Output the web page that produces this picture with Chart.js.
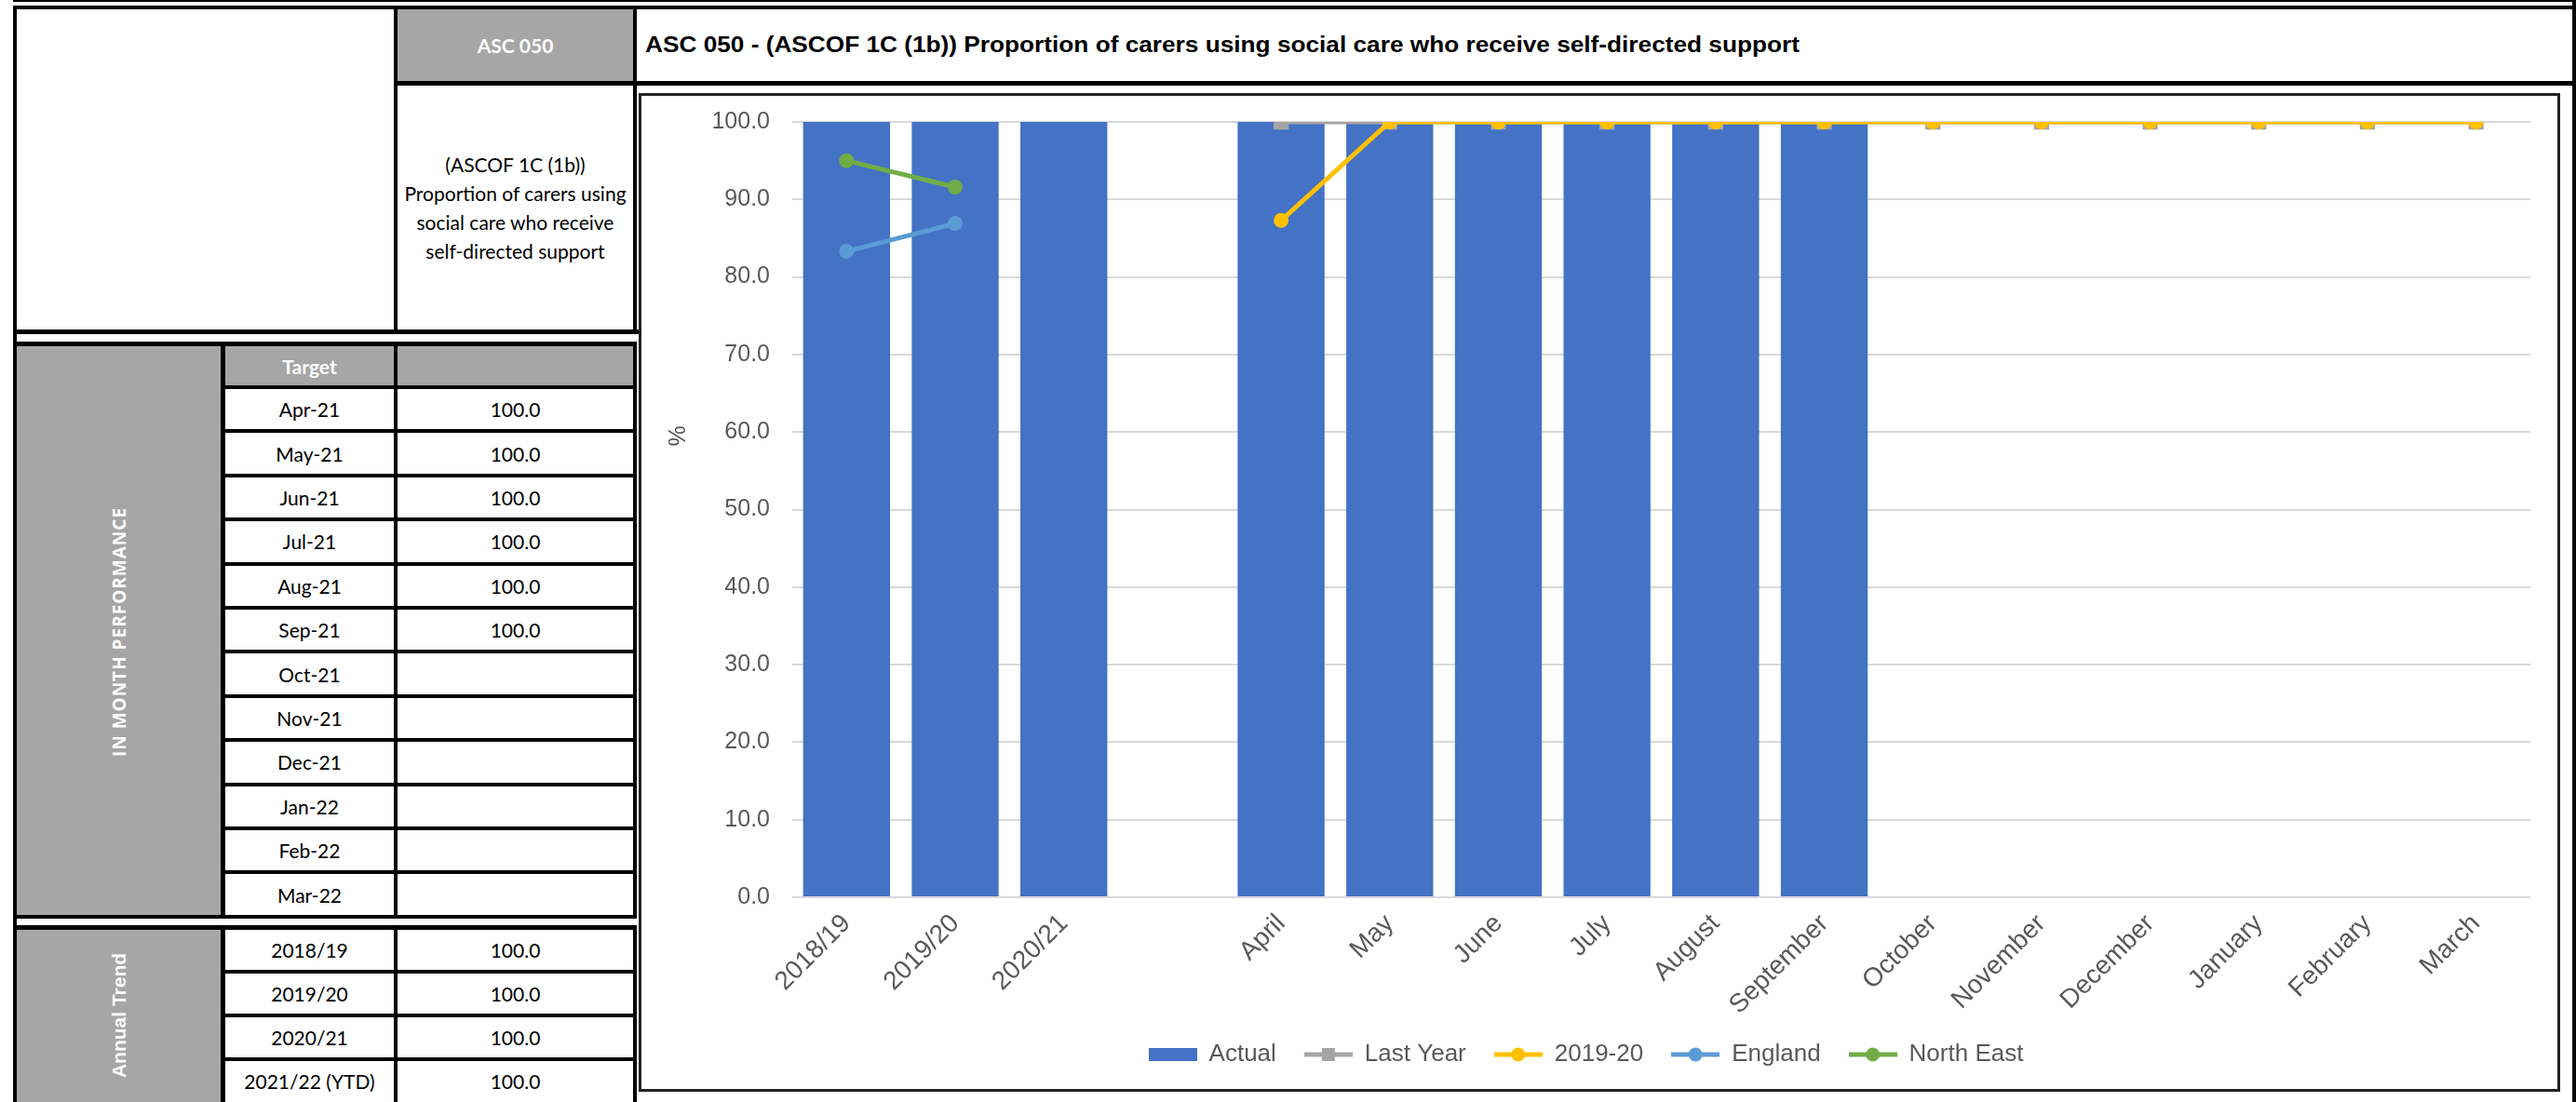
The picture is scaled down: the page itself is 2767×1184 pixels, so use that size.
<!DOCTYPE html>
<html>
<head>
<meta charset="utf-8">
<title>ASC 050</title>
<script src="https://cdn.jsdelivr.net/npm/chart.js@4.4.0/dist/chart.umd.min.js"></script>
<style>
  html, body { margin: 0; padding: 0; background: #fff; }
  body { position: relative; width: 2767px; height: 1184px; overflow: hidden; font-family: Lato, "Open Sans", sans-serif; }
  .ln { position: absolute; background: #000; }
  .fill { position: absolute; background: #a6a6a6; }
  .cell { position: absolute; display: flex; align-items: center; justify-content: center; text-align: center; font-size: 21px; color: #000; }
  .hdr { color: #fff; font-weight: bold; }
  .vert { position: absolute; transform: translate(-50%, -50%) rotate(-90deg); white-space: nowrap; color: #fff; font-weight: bold; }
  #title { position: absolute; left: 693px; top: 10px; height: 77px; display: flex; align-items: center;
           font: bold 23px "Liberation Sans", Arial, sans-serif; color: #000; white-space: nowrap;
           transform: scaleX(1.14); transform-origin: left center; }
  #chartBox { position: absolute; left: 686px; top: 100px; width: 2064px; height: 1073px; box-sizing: border-box; border: 3px solid #222; }
  #chartWrap { position: relative; width: 100%; height: 100%; }
</style>
</head>
<body>
<div id="title">ASC 050 - (ASCOF 1C (1b)) Proportion of carers using social care who receive self-directed support</div>
<div id="chartBox"><div id="chartWrap"><canvas id="ascChart"></canvas></div></div>
<script>
// chart data
const categories = ['2018/19', '2019/20', '2020/21', '', 'April', 'May', 'June', 'July', 'August',
  'September', 'October', 'November', 'December', 'January', 'February', 'March'];
const actual    = [100, 100, 100, null, 100, 100, 100, 100, 100, 100, null, null, null, null, null, null];
const lastYear  = [null, null, null, null, 100, 100, 100, 100, 100, 100, 100, 100, 100, 100, 100, 100];
const year1920  = [null, null, null, null, 87.3, 100, 100, 100, 100, 100, 100, 100, 100, 100, 100, 100];
const england   = [83.3, 86.9, null, null, null, null, null, null, null, null, null, null, null, null, null, null];
const northEast = [95.0, 91.6, null, null, null, null, null, null, null, null, null, null, null, null, null, null];
const yTicks = [0, 10, 20, 30, 40, 50, 60, 70, 80, 90, 100];

// side table data
const targetMonths = ['Apr-21', 'May-21', 'Jun-21', 'Jul-21', 'Aug-21', 'Sep-21',
  'Oct-21', 'Nov-21', 'Dec-21', 'Jan-22', 'Feb-22', 'Mar-22'];
const targetValues = [100, 100, 100, 100, 100, 100, null, null, null, null, null, null];
const annualYears = ['2018/19', '2019/20', '2020/21', '2021/22 (YTD)'];
const annualValues = [100, 100, 100, 100];

const body = document.body;
function box(cls, x, y, w, h) {
  const d = document.createElement('div');
  d.className = cls;
  Object.assign(d.style, { left: x + 'px', top: y + 'px', width: w + 'px', height: h + 'px' });
  body.appendChild(d);
  return d;
}
function cell(x, y, w, h, text, extra) {
  const d = box('cell' + (extra ? ' ' + extra : ''), x, y, w, h);
  d.textContent = text;
  return d;
}
function vtext(cx, cy, text, font, spacing) {
  const d = document.createElement('div');
  d.className = 'vert';
  d.style.left = cx + 'px';
  d.style.top = cy + 'px';
  d.style.font = font;
  if (spacing) d.style.letterSpacing = spacing;
  d.textContent = text;
  body.appendChild(d);
}

// grey fills
box('fill', 427, 10, 253, 77);
box('fill', 18, 372, 219, 611);
box('fill', 242, 372, 181, 42);
box('fill', 427, 372, 253, 42);
box('fill', 18, 999, 219, 185);

// header text
cell(427, 10, 253, 77, 'ASC 050', 'hdr');
const desc = cell(427, 92, 253, 262, '');
desc.innerHTML = '(ASCOF 1C (1b))<br>Proportion of carers using<br>social care who receive<br>self-directed support';
desc.style.lineHeight = '31px';
cell(242, 372, 181, 42, 'Target', 'hdr');

// in-month rows
const rowTop = 414, rowStep = 47.4;
targetMonths.forEach((m, i) => {
  const y0 = rowTop + rowStep * i + 4;
  const h = rowStep - 4;
  cell(242, y0, 181, h, m);
  cell(427, y0, 253, h, targetValues[i] == null ? '' : targetValues[i].toFixed(1));
});
for (let k = 0; k <= 12; k++) box('ln', 237, Math.round(rowTop + rowStep * k), 447, 4);

// annual trend rows
const annualTop = 999, annualStep = 47;
annualYears.forEach((yr, i) => {
  const y0 = annualTop + annualStep * i;
  cell(242, y0, 181, annualStep - 4, yr);
  cell(427, y0, 253, annualStep - 4, annualValues[i].toFixed(1));
  if (i > 0) box('ln', 237, y0 - 4, 447, 4);
});

// rotated side labels
vtext(128, 679, 'IN MONTH PERFORMANCE', 'bold 19px "Open Sans", sans-serif', '1px');
vtext(128, 1091, 'Annual Trend', 'bold 21px "Liberation Sans", Arial, sans-serif');

// frame lines
box('ln', 14, 0, 2753, 2);
box('ln', 14, 6, 2753, 4);
box('ln', 14, 6, 4, 1178);
box('ln', 2763, 0, 4, 1184);
box('ln', 423, 87, 2344, 5);
box('ln', 423, 10, 4, 349);
box('ln', 680, 10, 4, 349);
box('ln', 14, 354, 672, 5);
box('ln', 14, 367, 670, 5);
box('ln', 237, 372, 5, 615);
box('ln', 423, 372, 4, 615);
box('ln', 680, 367, 4, 620);
box('ln', 14, 983, 670, 4);
box('ln', 14, 994, 670, 5);
box('ln', 237, 999, 5, 185);
box('ln', 423, 994, 4, 190);
box('ln', 680, 994, 4, 190);

// legend keys: bar swatch or short line with its marker
function legendKey(color, marker) {
  const c = document.createElement('canvas');
  c.width = 52;
  c.height = marker ? 18 : 14;
  const g = c.getContext('2d');
  g.fillStyle = color;
  if (!marker) {
    g.fillRect(0, 0, 52, 14);
    return c;
  }
  g.fillRect(0, 6.5, 52, 5);
  if (marker === 'rect') {
    g.fillRect(19, 2, 14, 14);
  } else {
    g.beginPath();
    g.arc(26, 9, 7.5, 0, Math.PI * 2);
    g.fill();
  }
  return c;
}
const legendKeys = [
  legendKey('#4472c4'),
  legendKey('#a5a5a5', 'rect'),
  legendKey('#ffc000', 'circle'),
  legendKey('#5b9bd5', 'circle'),
  legendKey('#70ad47', 'circle')
];

const fontFamily = '"Liberation Sans", Arial, sans-serif';
const axisFont = { family: fontFamily, size: 25 };
const catFont = { family: fontFamily, size: 28 };

// rotated "%" axis caption
const yCaption = {
  id: 'yCaption',
  afterDraw(chart) {
    const { ctx, chartArea } = chart;
    ctx.save();
    ctx.translate(40, chartArea.top + 0.405 * (chartArea.bottom - chartArea.top));
    ctx.rotate(-Math.PI / 2);
    ctx.font = '25px ' + fontFamily;
    ctx.fillStyle = '#595959';
    ctx.textAlign = 'center';
    ctx.textBaseline = 'middle';
    ctx.fillText('%', 0, 0);
    ctx.restore();
  }
};

function lineSet(label, data, color, style, radius, order) {
  return {
    type: 'line', label, data, order,
    borderColor: color, backgroundColor: color,
    pointBackgroundColor: color, pointBorderColor: color,
    borderWidth: 5, pointBorderWidth: 0,
    pointStyle: style, pointRadius: radius, pointHoverRadius: radius,
    tension: 0, spanGaps: false
  };
}

new Chart(document.getElementById('ascChart'), {
  type: 'bar',
  data: {
    labels: categories,
    datasets: [
      { label: 'Actual', data: actual, backgroundColor: '#4472c4', borderWidth: 0,
        barPercentage: 0.8, categoryPercentage: 1.0, order: 5 },
      lineSet('Last Year', lastYear, '#a5a5a5', 'rect', 11.5, 4),
      lineSet('2019-20', year1920, '#ffc000', 'circle', 8, 3),
      lineSet('England', england, '#5b9bd5', 'circle', 8, 2),
      lineSet('North East', northEast, '#70ad47', 'circle', 8, 1)
    ]
  },
  options: {
    responsive: true,
    maintainAspectRatio: false,
    animation: false,
    layout: { padding: { top: 28, right: 29, bottom: 14, left: 0 } },
    scales: {
      x: {
        grid: { display: false, drawTicks: false },
        border: { display: false },
        ticks: { color: '#595959', font: catFont, minRotation: 45, maxRotation: 45, autoSkip: false, padding: 12 },
        afterFit: (s) => { s.height = 126; }
      },
      y: {
        min: yTicks[0], max: yTicks[yTicks.length - 1],
        grid: { color: '#d9d9d9', lineWidth: 2, drawTicks: false },
        border: { display: false },
        afterBuildTicks: (s) => { s.ticks = yTicks.map(v => ({ value: v })); },
        ticks: { color: '#595959', font: axisFont, padding: 24, callback: (v) => Number(v).toFixed(1) },
        afterFit: (s) => { s.width = 162; s.paddingTop = 0; s.paddingBottom = 0; }
      }
    },
    plugins: {
      tooltip: { enabled: false },
      legend: {
        position: 'bottom',
        labels: {
          usePointStyle: true,
          pointStyleWidth: 52,
          color: '#595959',
          font: { family: fontFamily, size: 26 },
          padding: 30,
          sort: (a, b) => a.datasetIndex - b.datasetIndex,
          generateLabels(chart) {
            const items = Chart.defaults.plugins.legend.labels.generateLabels(chart);
            items.forEach(it => { it.pointStyle = legendKeys[it.datasetIndex]; });
            return items;
          }
        }
      }
    }
  },
  plugins: [yCaption]
});
</script>
</body>
</html>
